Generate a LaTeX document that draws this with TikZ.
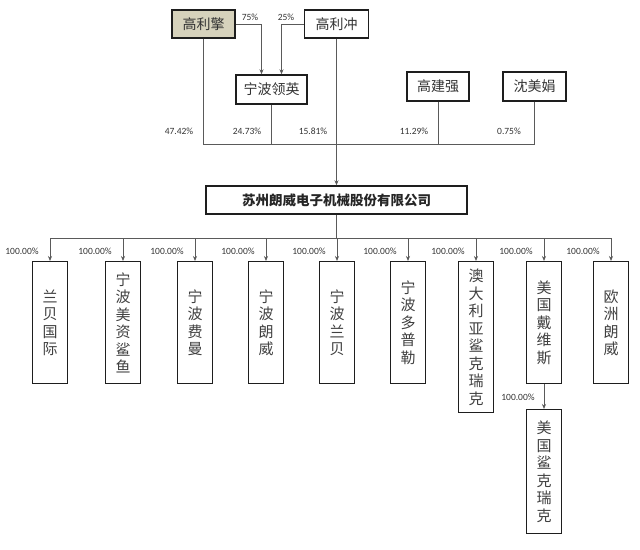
\documentclass[tikz,border=0pt]{standalone}
\usepackage{fontspec}
\setmainfont{Noto Sans CJK SC}
\newfontfamily\pctfont{Carlito}
\usetikzlibrary{arrows.meta, positioning}
\definecolor{boxline}{RGB}{30,30,30}
\definecolor{wireline}{RGB}{90,90,90}
\definecolor{founder}{RGB}{214,210,188}
\begin{document}
\begin{tikzpicture}[x=1pt, y=-1pt,
    holder/.style={draw=boxline, line width=1.4pt, minimum height=28pt, inner sep=0pt,
      font=\fontsize{14pt}{16pt}\selectfont, text=black!80},
    company/.style={draw=boxline, line width=1.4pt, minimum width=261pt, minimum height=28pt,
      font=\fontsize{13.5pt}{16pt}\selectfont\bfseries, text=black!85},
    sub/.style={draw=boxline, line width=1.4pt, anchor=north, minimum width=35pt, minimum height=122pt,
      inner sep=0pt, align=center, font=\fontsize{15pt}{17.5pt}\selectfont, text=black!75},
    pct/.style={font=\pctfont\fontsize{9.5pt}{11pt}\selectfont, text=black!80, inner sep=0pt},
    wire/.style={draw=wireline, line width=0.7pt},
    arr/.style={wire, -{Stealth[length=5pt, width=4pt]}}]
  \useasboundingbox (0,0) rectangle (640,549);

  \node[holder, fill=founder, minimum width=63pt] (gaoliqing) at (203.5,24) {高利擎};
  \node[holder, minimum width=64pt] (gaolichong) at (336.5,24) {高利冲};
  \node[holder, minimum width=71pt, minimum height=29pt] (lingying) at (271.5,89.5) {宁波领英};
  \node[holder, minimum width=62pt, minimum height=29pt] (gaojianqiang) at (438,86.5) {高建强};
  \node[holder, minimum width=63pt, minimum height=29pt] (shenmeijuan) at (534.5,86.5) {沈美娟};
  \node[company] (langwei) at (336.5,200) {苏州朗威电子机械股份有限公司};

  \coordinate (holderbus) at (336.5,144);
  \coordinate (subbus) at (336.5,238);

  \draw[arr] (gaoliqing.east) -| ([xshift=-10pt]lingying.north);
  \draw[arr] (gaolichong.west) -| ([xshift=10pt]lingying.north);
  \node[pct] (p75) at (250,17) {75\%};
  \node[pct] (p25) at (286,17) {25\%};

  \draw[wire] (gaoliqing.south) |- (holderbus);
  \draw[wire] (lingying.south) |- (holderbus);
  \draw[wire] (gaojianqiang.south) |- (holderbus);
  \draw[wire] (shenmeijuan.south) |- (holderbus);
  \draw[arr] (gaolichong.south) -- (langwei.north);
  \node[pct] (p4742) at (179,131) {47.42\%};
  \node[pct] (p2473) at (247,131) {24.73\%};
  \node[pct] (p1581) at (313,131) {15.81\%};
  \node[pct] (p1129) at (414,131) {11.29\%};
  \node[pct] (p075) at (509,131) {0.75\%};

  \draw[wire] (langwei.south) -- (subbus);
  \foreach \x/\n/\t in {50/lanbei/{兰\\贝\\国\\际}, 123/meizi/{宁\\波\\美\\资\\鲨\\鱼},
      195/feiman/{宁\\波\\费\\曼}, 266/nblangwei/{宁\\波\\朗\\威}, 337/nblanbei/{宁\\波\\兰\\贝},
      408/duopule/{宁\\波\\多\\普\\勒}, 544/daiweisi/{美\\国\\戴\\维\\斯}, 611/ouzhou/{欧\\洲\\朗\\威}} {
    \node[sub] (\n) at (\x,261) {\t};
    \draw[arr] (subbus) -| (\n.north);
    \node[pct] (p\n) at (\x-28,251) {100.00\%};
  }
  \node[sub, minimum height=151pt] (aozhou) at (476,261) {澳\\大\\利\\亚\\鲨\\克\\瑞\\克};
  \draw[arr] (subbus) -| (aozhou.north);
  \node[pct] (paozhou) at (448,251) {100.00\%};

  \node[sub, minimum height=124pt] (meiguo) at (544,409) {美\\国\\鲨\\克\\瑞\\克};
  \draw[arr] (daiweisi.south) -- (meiguo.north);
  \node[pct] (pmeiguo) at (518,397) {100.00\%};
\end{tikzpicture}
\end{document}
